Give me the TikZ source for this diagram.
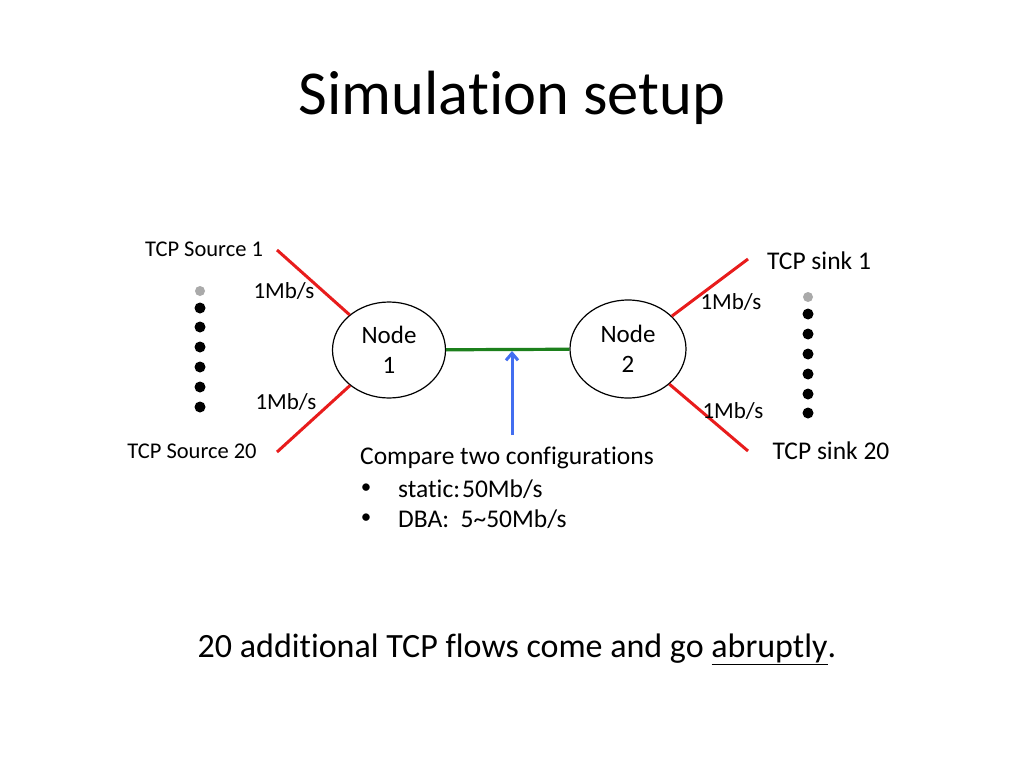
\documentclass[tikz,border=0pt]{standalone}
\usepackage{fontspec}
\setmainfont{Carlito}[Ligatures=NoCommon]
\usetikzlibrary{shapes.geometric,arrows.meta}
\definecolor{redl}{RGB}{232,28,28}
\definecolor{greenl}{RGB}{28,128,28}
\definecolor{bluel}{RGB}{66,110,240}
\definecolor{dotgrey}{RGB}{170,170,170}
\newcommand{\fs}[2][1.2]{\fontsize{#2}{#1\dimexpr #2pt\relax}\selectfont}
\tikzset{
  netnode/.style={ellipse, draw=black, line width=1.2pt, minimum width=113pt, minimum height=96pt, inner sep=0pt, align=center, font=\fs{25}},
  redlink/.style={draw=redl, line width=3pt},
  greenlink/.style={draw=greenl, line width=3.2pt},
  pointer/.style={draw=bluel, line width=3pt, -{Straight Barb[length=7pt,width=12pt]}},
  lbl/.style={inner sep=0pt, font=\fs{22.5}},
  sinklbl/.style={inner sep=0pt, font=\fs{25.5}},
  rate/.style={inner sep=0pt, font=\fs{23}},
  dotb/.style={circle, fill=black, minimum size=11pt, inner sep=0pt},
  dotg/.style={circle, fill=dotgrey, minimum size=10pt, inner sep=0pt},
  body/.style={inner sep=0pt, anchor=west, font=\fs{25.5}},
  bullet/.style={inner sep=0pt, font=\fs{21}},
}
\begin{document}
\begin{tikzpicture}[x=1pt,y=-1pt]
\path[use as bounding box, fill=white] (0,0) rectangle (1024,768);

\node[inner sep=0pt, font=\fs{62.5}] (title) at (512,98) {Simulation setup};

\node[netnode] (n1) at (389,350) {Node\\1};
\node[netnode, minimum width=116pt, minimum height=98pt] (n2) at (628,349) {Node\\2};

\coordinate (s1) at (277,250);
\coordinate (s20) at (277,452);
\coordinate (k1) at (748,259);
\coordinate (k20) at (748,451);

\draw[redlink] (s1) -- (n1);
\draw[redlink] (s20) -- (n1);
\draw[redlink] (k1) -- (n2);
\draw[redlink] (k20) -- (n2);
\draw[greenlink] (n1) -- (n2);

\coordinate (btail) at (512,435);
\coordinate (bhead) at (512,351);
\draw[pointer] (btail) -- (bhead);

\node[lbl] (src1) at (204,249) {TCP Source 1};
\node[lbl] (src20) at (192,451) {TCP Source 20};
\node[sinklbl] (snk1) at (819,261) {TCP sink 1};
\node[sinklbl] (snk20) at (831,451) {TCP sink 20};

\node[rate] (r1) at (284,291) {1Mb/s};
\node[rate] (r2) at (286,402) {1Mb/s};
\node[rate] (r3) at (731,302) {1Mb/s};
\node[rate] (r4) at (733,411) {1Mb/s};

\node[dotg] (ld0) at (200,291) {};
\foreach \y [count=\i] in {308,327,347,367,387,407} \node[dotb] (ld\i) at (200,\y) {};
\node[dotg] (rd0) at (808,297) {};
\foreach \y [count=\i] in {314,334,354,374,394,413} \node[dotb] (rd\i) at (808,\y) {};

\node[body] (cmp) at (360,458) {Compare two configurations};
\node[bullet] (b1) at (366,489) {•};
\node[body] (t1) at (398,489) {static:\kern2pt 50Mb/s};
\node[bullet] (b2) at (366,519) {•};
\node[body] (t2) at (398,519) {DBA:\ \ 5\textasciitilde 50Mb/s};

\node[inner sep=0pt, font=\fs{34}] (foot) at (517,649) {20 additional TCP flows come and go \underline{abruptly}.};
\end{tikzpicture}
\end{document}
